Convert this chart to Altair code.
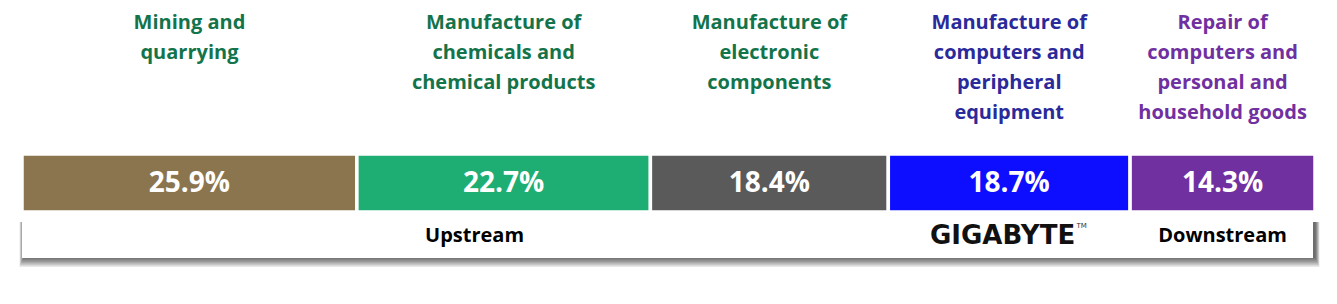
import altair as alt
import pandas as pd

# ---- data ----
labels = [
    "Mining and\nquarrying",
    "Manufacture of\nchemicals and\nchemical products",
    "Manufacture of\nelectronic\ncomponents",
    "Manufacture of\ncomputers and\nperipheral\nequipment",
    "Repair of\ncomputers and\npersonal and\nhousehold goods",
]
shares = [25.9, 22.7, 18.4, 18.7, 14.3]
bar_colors = ["#8B754E", "#1EAD73", "#5A5A5A", "#0D0DFF", "#7030A0"]
label_colors = ["#13734B", "#13734B", "#13734B", "#2A2A9A", "#7030A0"]

stage_names = ["Upstream", "Downstream"]
stage_pos = [35.0, 92.85]
brand_name = "GIGABYTE"
brand_pos = 76.3

# ---- derived table ----
ends = pd.Series(shares).cumsum()
starts = ends - pd.Series(shares)
df = pd.DataFrame({
    "label": labels,
    "share": shares,
    "start": starts,
    "end": ends,
    "mid": (starts + ends) / 2,
    "pct": [f"{v:.1f}%" for v in shares],
    "bar_color": bar_colors,
    "label_color": label_colors,
})
stages = pd.DataFrame({"name": stage_names, "pos": stage_pos})
brand = pd.DataFrame({"name": [brand_name], "pos": [brand_pos], "tm": ["TM"]})

xs = alt.Scale(domain=[0, 100], nice=False, zero=False)


def X(f):
    return alt.X(f, type="quantitative", scale=xs, axis=None)


base = alt.Chart(df)
span = base.transform_aggregate(x0="min(start)", x1="max(end)")

# soft shadow layers for the footer box
shadow_layers = []
for i in range(1, 10):
    shadow_layers.append(
        span.mark_rect(
            color="#000000", opacity=0.085, xOffset=2 - i * 0.5, x2Offset=i * 0.5
        ).encode(
            x=X("x0"),
            x2="x1",
            y=alt.value(222),
            y2=alt.value(257 + i * 1.1),
        )
    )

box = span.mark_rect(color="white", x2Offset=-2).encode(
    x=X("x0"),
    x2="x1",
    y=alt.value(214),
    y2=alt.value(258),
)

bars = base.mark_rect(stroke="white", strokeWidth=3.5).encode(
    x=X("start"),
    x2="end",
    y=alt.value(154),
    y2=alt.value(212),
    color=alt.Color("bar_color:N", scale=None),
)

pct_text = base.mark_text(
    font="Open Sans", fontSize=28, fontWeight="bold", color="white",
    align="center", baseline="middle",
).encode(x=X("mid"), y=alt.value(184), text="pct:N")

top_labels = base.mark_text(
    font="Open Sans", fontSize=20, fontWeight="bold", align="center",
    baseline="top", lineBreak="\n", lineHeight=30,
).encode(
    x=X("mid"), y=alt.value(13), text="label:N",
    color=alt.Color("label_color:N", scale=None),
)

stage_text = alt.Chart(stages).mark_text(
    font="Open Sans", fontSize=20, fontWeight="bold", color="black",
    align="center", baseline="middle",
).encode(x=X("pos"), y=alt.value(236), text="name:N")

brand_text = alt.Chart(brand).mark_text(
    font="DejaVu Sans", fontSize=26, fontWeight="bold", color="#111111",
    align="center", baseline="middle", dx=-6,
).encode(x=X("pos"), y=alt.value(236), text="name:N")

tm_text = alt.Chart(brand).mark_text(
    font="DejaVu Sans", fontSize=7, color="#333333",
    align="left", baseline="middle", dx=68,
).encode(x=X("pos"), y=alt.value(226), text="tm:N")

chart = alt.layer(
    *shadow_layers, box, bars, pct_text, top_labels, stage_text, brand_text, tm_text
).properties(
    width=1293, height=304,
    padding={"left": 22, "right": 22, "top": 0, "bottom": 0},
    autosize=alt.AutoSizeParams(type="none"),
    background="white",
).configure_view(stroke=None)

chart.save("out.html", embed_options={"renderer": "svg", "actions": False})
